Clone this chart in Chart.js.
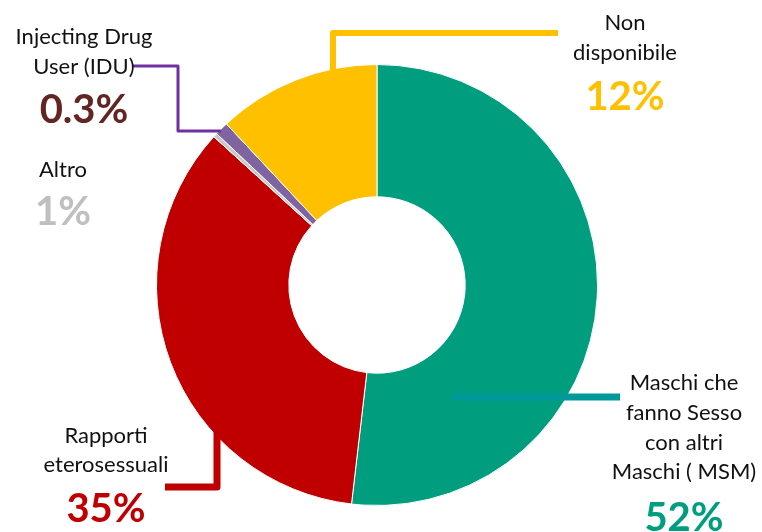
<!DOCTYPE html>
<html>
<head>
<meta charset="utf-8">
<script src="https://cdn.jsdelivr.net/npm/chart.js@4"></script>
<style>
  html, body { margin: 0; padding: 0; background: #fff; }
  #wrap { width: 762px; height: 532px; position: relative; }
</style>
</head>
<body>
<div id="wrap"><canvas id="myChart" width="762" height="532"></canvas></div>
<script>
// Categories, clockwise from 12 o'clock
var categories = ['Maschi che fanno Sesso con altri Maschi ( MSM)', 'Rapporti eterosessuali', 'Altro', 'Injecting Drug User (IDU)', 'Non disponibile'];

// Slice sizes as they appear in the picture
var values = [52, 35, 0.3, 1, 12];

// Percent labels printed next to each slice
var pctLabels = ['52%', '35%', '1%', '0.3%', '12%'];

var sliceColors = ['#009E7F', '#C00000', '#C9C9C9', '#8064A2', '#FFC000'];

// label text blocks: lines, centre x, line y's, percent y, percent colour
var labelBlocks = [
  { lines: ['Maschi che', 'fanno Sesso', 'con altri', 'Maschi ( MSM)'], x: 684, ys: [383, 413, 443, 472], py: 518, color: '#009E80' },
  { lines: ['Rapporti', 'eterosessuali'], x: 106, ys: [436, 465], py: 509, color: '#C00000' },
  { lines: ['Altro'], x: 63, ys: [170], py: 212, color: '#BFBFBF' },
  { lines: ['Injecting Drug', 'User (IDU)'], x: 84, ys: [37, 67], py: 110, color: '#632523' },
  { lines: ['Non', 'disponibile'], x: 625, ys: [23, 53], py: 97, color: '#FFC000' }
];

// leader lines (annotation paths)
var leaders = [
  { pts: [[452, 397], [620, 397]], color: '#009999', w: 7 },
  { pts: [[165, 487], [217, 487], [217, 432]], color: '#C00000', w: 7 },
  { pts: [[133, 66], [178, 66], [178, 131], [221, 131]], color: '#7030A0', w: 3 },
  { pts: [[558, 33], [333, 33], [333, 70]], color: '#FFC000', w: 6 }
];

var labelPlugin = {
  id: 'labels',
  afterDatasetsDraw: function (chart) {
    var ctx = chart.ctx;
    ctx.save();
    leaders.forEach(function (l) {
      ctx.beginPath();
      ctx.strokeStyle = l.color;
      ctx.lineWidth = l.w;
      ctx.lineJoin = 'round';
      ctx.moveTo(l.pts[0][0], l.pts[0][1]);
      for (var i = 1; i < l.pts.length; i++) ctx.lineTo(l.pts[i][0], l.pts[i][1]);
      ctx.stroke();
    });
    ctx.textAlign = 'center';
    ctx.textBaseline = 'middle';
    labelBlocks.forEach(function (b, i) {
      ctx.fillStyle = '#111';
      ctx.font = '22px Lato';
      b.lines.forEach(function (t, j) {
        ctx.fillText(t, b.x, b.ys[j]);
      });
      ctx.fillStyle = b.color;
      ctx.font = 'bold 40px Lato';
      ctx.fillText(pctLabels[i], b.x, b.py);
    });
    ctx.restore();
  }
};

var ctx = document.getElementById('myChart');
var myChart = new Chart(ctx, {
  type: 'doughnut',
  data: {
    labels: categories,
    datasets: [
      {
        data: values,
        backgroundColor: sliceColors,
        borderColor: '#ffffff',
        borderWidth: 1
      }
    ]
  },
  options: {
    responsive: false,
    animation: false,
    cutout: '40%',
    layout: { padding: { top: 64, bottom: 26, left: 156, right: 164 } },
    plugins: {
      legend: { display: false },
      tooltip: { enabled: false }
    }
  },
  plugins: [labelPlugin]
});
</script>
</body>
</html>
